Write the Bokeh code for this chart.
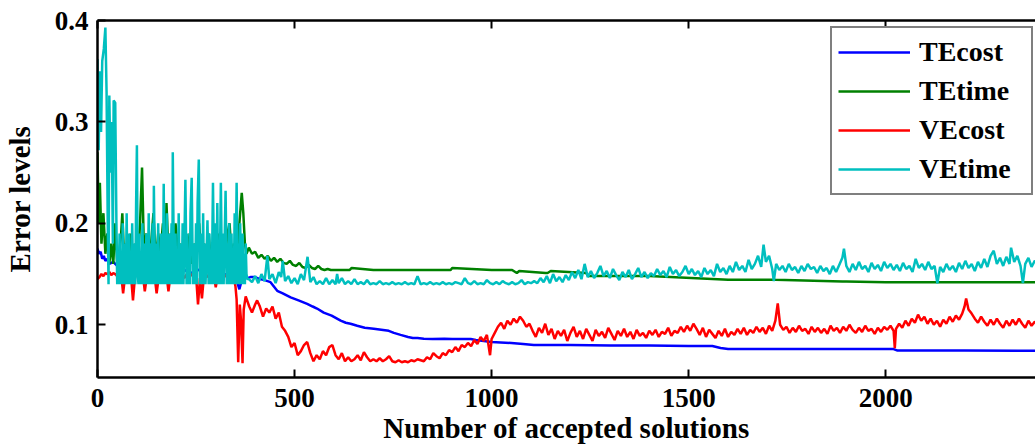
from bokeh.plotting import figure
from bokeh.models import LinearAxis, SingleIntervalTicker, Range1d, Legend, LegendItem
from bokeh.embed import file_html
from bokeh.resources import INLINE

# ---------------- data ----------------
tecost_x = [0, 4, 8, 12, 16, 20, 25, 30, 40, 50, 60, 70, 80, 90, 100, 120, 140, 160, 180, 200,
            220, 240, 262, 280, 300, 320, 340, 350, 356, 360, 364, 370, 380, 388, 400, 412, 424,
            439, 456, 470, 490, 510, 532, 546, 557, 574, 594, 617, 630, 642, 659, 678, 701, 720,
            739, 752, 769, 788, 800, 812, 828, 850, 880, 900, 947, 960, 980, 1000, 1023, 1050,
            1080, 1107, 1200, 1302, 1400, 1500, 1560, 1581, 1600, 1700, 1800, 1900, 2000, 2020,
            2030, 2200, 2386]
tecost_y = [0.175, 0.170, 0.172, 0.165, 0.168, 0.163, 0.165, 0.160, 0.162, 0.158, 0.160, 0.156,
            0.158, 0.155, 0.157, 0.154, 0.156, 0.153, 0.155, 0.152, 0.154, 0.151, 0.155, 0.152,
            0.151, 0.150, 0.149, 0.147, 0.140, 0.135, 0.141, 0.147, 0.146, 0.147, 0.147, 0.145,
            0.144, 0.142, 0.1335, 0.131, 0.127, 0.124, 0.1206, 0.118, 0.116, 0.112, 0.109, 0.104,
            0.102, 0.101, 0.099, 0.097, 0.096, 0.095, 0.094, 0.092, 0.090, 0.088, 0.087, 0.087,
            0.0862, 0.086, 0.0863, 0.086, 0.086, 0.085, 0.084, 0.083, 0.0826, 0.082, 0.081, 0.080,
            0.080, 0.0795, 0.0795, 0.079, 0.079, 0.077, 0.076, 0.076, 0.076, 0.076, 0.076, 0.076,
            0.0745, 0.0745, 0.0744]

tetime_x = [0, 3, 6, 10, 15, 20, 25, 30, 35, 40, 45, 50, 55, 60, 63, 68, 72, 78, 84, 90, 96, 102,
            108, 113, 118, 124, 130, 136, 142, 148, 154, 160, 166, 172, 175, 180, 186, 192, 198,
            204, 210, 216, 222, 228, 234, 240, 246, 252, 258, 264, 270, 276, 282, 288, 294, 300,
            306, 312, 318, 324, 330, 335, 340, 346, 352, 358, 362, 366, 370, 374, 378,
            384, 392, 400, 408, 416, 424, 432, 440, 448, 456, 464, 472, 480, 488, 496, 504, 512,
            520, 528, 536, 544, 552, 560, 568, 576, 584, 592, 600, 620, 640, 645, 700, 760, 800,
            896, 900, 1000, 1048, 1052, 1064, 1070, 1137, 1142, 1150, 1240, 1245, 1400, 1600,
            1716, 1720, 1890, 1894, 1900, 2000, 2386]
tetime_y = [0.27, 0.20, 0.24, 0.18, 0.21, 0.17, 0.19, 0.16, 0.18, 0.16, 0.20, 0.16, 0.17, 0.19,
            0.21, 0.16, 0.18, 0.16, 0.19, 0.16, 0.18, 0.16, 0.20, 0.255, 0.17, 0.19, 0.16, 0.18,
            0.21, 0.16, 0.19, 0.17, 0.20, 0.16, 0.22, 0.17, 0.19, 0.16, 0.20, 0.17, 0.18, 0.16,
            0.20, 0.17, 0.19, 0.16, 0.18, 0.17, 0.20, 0.16, 0.18, 0.17, 0.19, 0.16, 0.18, 0.17,
            0.19, 0.16, 0.18, 0.17, 0.19, 0.20, 0.17, 0.18, 0.16, 0.19, 0.21, 0.23, 0.21, 0.18,
            0.17,
            0.176, 0.170, 0.172, 0.166, 0.169, 0.165, 0.168, 0.163, 0.166, 0.162, 0.165, 0.161,
            0.160, 0.163, 0.159, 0.158, 0.161, 0.157, 0.156, 0.159, 0.156, 0.155, 0.158, 0.155,
            0.154, 0.155, 0.154, 0.154, 0.154, 0.154, 0.156, 0.154, 0.154, 0.154, 0.154, 0.156,
            0.154, 0.154, 0.154, 0.151, 0.153, 0.151, 0.151, 0.153, 0.151, 0.148, 0.148, 0.1445,
            0.1445, 0.1444, 0.1427, 0.1427, 0.1427, 0.1418, 0.1418, 0.1412, 0.1410]

vecost_x = [0, 5, 10, 15, 20, 25, 30, 35, 40, 45, 50, 55, 60, 65, 70, 75, 80, 85, 90, 95, 100,
            105, 110, 115, 120, 125, 130, 135, 140, 145, 150, 155, 160, 165, 170, 175, 180, 185,
            190, 195, 200, 205, 210, 215, 220, 225, 230, 235, 240, 245, 250, 255, 260, 265, 270,
            275, 280, 285, 290, 295, 300, 305, 310, 315, 320, 325, 330, 335, 340, 345, 350, 353,
            357, 361, 364, 368, 371, 376,
            385, 392, 400, 405, 412, 420, 428, 436, 444, 452, 460, 468, 476, 484, 492, 500, 508,
            516, 524, 532, 540, 548, 556, 564, 572, 580, 588, 596, 604, 612, 620, 628, 636, 644,
            652, 660, 668, 676, 684, 692, 700, 708, 716, 724, 732, 740, 748, 756, 764, 772, 780,
            788, 796, 804, 812, 820, 828, 836, 844, 852, 860, 868, 876, 884, 892, 900, 908, 916,
            924, 932, 940, 948, 956, 964, 972, 980, 988, 996, 1000, 1008, 1016, 1024, 1032, 1040,
            1048, 1056, 1064, 1072, 1080, 1088, 1096, 1104, 1112, 1120, 1128, 1136, 1144, 1152,
            1160, 1168, 1176, 1184, 1192, 1200, 1208, 1216, 1224, 1232, 1240, 1248, 1256, 1264,
            1272, 1280, 1288, 1296, 1304, 1312, 1320, 1328, 1336, 1344, 1352, 1360, 1368, 1376,
            1384, 1392, 1400, 1408, 1416, 1424, 1432, 1440, 1448, 1456, 1464, 1472, 1480, 1488,
            1496, 1504, 1512, 1520, 1528, 1536, 1544, 1552, 1560, 1568, 1576, 1584, 1592, 1600,
            1608, 1616, 1624, 1632, 1640, 1648, 1656, 1664, 1672, 1680, 1688, 1696, 1704, 1712,
            1720, 1726, 1732, 1740, 1748, 1756, 1764, 1772, 1780, 1788, 1796, 1804, 1812, 1820,
            1828, 1836, 1844, 1852, 1860, 1868, 1876, 1884, 1892, 1900, 1908, 1916, 1924, 1932,
            1940, 1948, 1956, 1964, 1972, 1980, 1988, 1996, 2004, 2012, 2020, 2023, 2026, 2034,
            2042, 2050, 2058, 2066, 2074, 2082, 2090, 2098, 2106, 2114, 2122, 2130, 2138, 2146,
            2154, 2162, 2170, 2178, 2186, 2194, 2200, 2204, 2210, 2218, 2226, 2234, 2242, 2250,
            2258, 2266, 2274, 2282, 2290, 2298, 2306, 2314, 2322, 2330, 2338, 2346, 2354, 2362,
            2370, 2378, 2386]
vecost_y = [0.145, 0.147, 0.150, 0.148, 0.151, 0.150, 0.152, 0.149, 0.151, 0.150, 0.148, 0.146,
            0.150, 0.131, 0.148, 0.150, 0.146, 0.149, 0.124, 0.147, 0.150, 0.148, 0.146, 0.150,
            0.133, 0.147, 0.149, 0.146, 0.150, 0.148, 0.131, 0.146, 0.150, 0.148, 0.147, 0.150,
            0.133, 0.148, 0.149, 0.146, 0.150, 0.148, 0.147, 0.150, 0.146, 0.149, 0.151, 0.148,
            0.150, 0.147, 0.149, 0.120, 0.146, 0.126, 0.148, 0.150, 0.147, 0.149, 0.146, 0.150,
            0.137, 0.148, 0.150, 0.141, 0.147, 0.149, 0.146, 0.150, 0.144, 0.148, 0.138, 0.125,
            0.063, 0.120, 0.105, 0.062, 0.115, 0.128,
            0.118, 0.112, 0.120, 0.124, 0.118, 0.108, 0.116, 0.112, 0.118, 0.106, 0.112, 0.098,
            0.094, 0.088, 0.078, 0.082, 0.070, 0.074, 0.080, 0.083, 0.072, 0.064, 0.070, 0.066,
            0.074, 0.070, 0.078, 0.080, 0.070, 0.066, 0.072, 0.064, 0.068, 0.064, 0.066, 0.070,
            0.065, 0.073, 0.068, 0.064, 0.066, 0.064, 0.067, 0.064, 0.066, 0.069, 0.064, 0.063,
            0.065, 0.063, 0.064, 0.063, 0.065, 0.064, 0.066, 0.065, 0.064, 0.068, 0.066, 0.072,
            0.069, 0.067, 0.072, 0.070, 0.075, 0.073, 0.078, 0.074, 0.080, 0.078, 0.082, 0.079,
            0.085, 0.081, 0.088, 0.084, 0.090, 0.070, 0.086, 0.092, 0.098, 0.102, 0.096, 0.104,
            0.100, 0.106, 0.102, 0.108, 0.104, 0.098, 0.101, 0.094, 0.088, 0.097, 0.092, 0.101,
            0.090, 0.096, 0.086, 0.094, 0.089, 0.095, 0.084, 0.092, 0.098, 0.088, 0.094, 0.086,
            0.096, 0.090, 0.084, 0.095, 0.089, 0.093, 0.087, 0.097, 0.091, 0.085, 0.094, 0.089,
            0.096, 0.088, 0.093, 0.086, 0.095, 0.089, 0.092, 0.087, 0.094, 0.090, 0.095, 0.088,
            0.093, 0.091, 0.097, 0.089, 0.094, 0.092, 0.098, 0.093, 0.099, 0.094, 0.101, 0.096,
            0.090, 0.097, 0.088, 0.095, 0.091, 0.087, 0.094, 0.089, 0.096, 0.088, 0.093, 0.090,
            0.096, 0.091, 0.097, 0.090, 0.095, 0.092, 0.098, 0.093, 0.097, 0.091, 0.099, 0.094,
            0.104, 0.121, 0.100, 0.095, 0.098, 0.092, 0.097, 0.093, 0.099, 0.094, 0.096, 0.091,
            0.098, 0.093, 0.097, 0.092, 0.096, 0.091, 0.099, 0.094, 0.097, 0.092, 0.098, 0.094,
            0.100, 0.095, 0.092, 0.097, 0.093, 0.099, 0.094, 0.096, 0.091, 0.097, 0.093, 0.098,
            0.095, 0.099, 0.094, 0.077, 0.096, 0.101, 0.097, 0.104, 0.099, 0.106, 0.102, 0.110,
            0.104, 0.108, 0.101, 0.106, 0.100, 0.104, 0.098, 0.105, 0.101, 0.108, 0.103, 0.109,
            0.105, 0.111, 0.118, 0.126, 0.115, 0.111, 0.106, 0.102, 0.108, 0.103, 0.099, 0.105,
            0.100, 0.106, 0.101, 0.097, 0.104, 0.099, 0.105, 0.100, 0.106, 0.101, 0.097, 0.104,
            0.099, 0.103, 0.100]

# VEtime, first part (dense oscillation up to ~380 accepted solutions), as (x, y) pairs
vetime_head = [
    (0, 0.362), (3, 0.272), (6, 0.350), (9, 0.290), (12, 0.360), (16, 0.372), (20, 0.393),
    (23, 0.330), (26, 0.200), (28, 0.140), (30, 0.326), (33, 0.250), (36, 0.300), (39, 0.180),
    (41, 0.321), (45, 0.319), (48, 0.20), (50, 0.14), (52, 0.17), (54, 0.14), (56, 0.19),
    (58, 0.14), (60, 0.16), (62, 0.14), (64, 0.20), (66, 0.15), (68, 0.14), (70, 0.18),
    (72, 0.14), (74, 0.21), (76, 0.14), (78, 0.16), (80, 0.19), (82, 0.14), (84, 0.17),
    (86, 0.14), (88, 0.20), (90, 0.15), (92, 0.14), (94, 0.18), (96, 0.14), (98, 0.22),
    (100, 0.277), (102, 0.15), (104, 0.14), (106, 0.19), (108, 0.14), (110, 0.17), (112, 0.14),
    (114, 0.20), (116, 0.15), (118, 0.14), (120, 0.18), (122, 0.14), (124, 0.19), (126, 0.14),
    (128, 0.16), (130, 0.21), (132, 0.14), (134, 0.18), (136, 0.14), (138, 0.17), (140, 0.20),
    (142, 0.14), (143, 0.237), (146, 0.14), (148, 0.18), (150, 0.15), (152, 0.14), (154, 0.20),
    (156, 0.14), (158, 0.17), (160, 0.14), (162, 0.19), (164, 0.15), (166, 0.14), (168, 0.239),
    (170, 0.14), (172, 0.18), (174, 0.14), (176, 0.21), (178, 0.15), (180, 0.14), (182, 0.19),
    (184, 0.14), (186, 0.17), (188, 0.20), (190, 0.14), (191, 0.270), (194, 0.15), (196, 0.14),
    (198, 0.19), (200, 0.14), (202, 0.17), (204, 0.14), (206, 0.21), (208, 0.14), (210, 0.18),
    (212, 0.15), (214, 0.14), (216, 0.20), (218, 0.14), (220, 0.17), (223, 0.243), (226, 0.14),
    (228, 0.19), (230, 0.14), (232, 0.16), (234, 0.14), (236, 0.21), (239, 0.245), (242, 0.14),
    (244, 0.18), (246, 0.15), (248, 0.14), (250, 0.20), (252, 0.14), (254, 0.22), (257, 0.263),
    (260, 0.14), (262, 0.19), (264, 0.15), (266, 0.14), (268, 0.21), (270, 0.14), (272, 0.18),
    (274, 0.14), (276, 0.16), (279, 0.203), (282, 0.14), (284, 0.19), (286, 0.14), (288, 0.17),
    (290, 0.14), (293, 0.240), (296, 0.14), (298, 0.20), (300, 0.15), (302, 0.14), (304, 0.22),
    (306, 0.14), (308, 0.18), (310, 0.14), (313, 0.240), (316, 0.14), (318, 0.19), (320, 0.14),
    (322, 0.17), (325, 0.232), (328, 0.14), (330, 0.18), (332, 0.14), (334, 0.20), (336, 0.15),
    (338, 0.14), (340, 0.19), (342, 0.14), (344, 0.17), (346, 0.14), (348, 0.21), (350, 0.14),
    (353, 0.240), (356, 0.14), (358, 0.18), (360, 0.14), (362, 0.20), (364, 0.15), (366, 0.14),
    (368, 0.19), (370, 0.14), (372, 0.17), (374, 0.14), (376, 0.18), (378, 0.15), (380, 0.145),
]

vetime_tail_x = [384, 392, 400, 408, 416, 424, 431, 436, 444, 452, 460, 466, 470, 476, 484, 492, 500,
            508, 516, 524, 533, 540, 548, 556, 564, 572, 580, 588, 596, 604, 608, 612, 620, 628,
            636, 644, 652, 660, 668, 676, 684, 692, 700, 708, 716, 724, 732, 740, 748, 756, 764,
            772, 780, 788, 796, 804, 812, 820, 828, 836, 844, 852, 860, 868, 876, 884, 892, 900,
            908, 916, 924, 932, 940, 948, 956, 964, 972, 980, 988, 996, 1004, 1012, 1020, 1028,
            1036, 1044, 1052, 1060, 1068, 1076, 1084, 1092, 1100, 1108, 1116, 1124, 1132, 1140,
            1148, 1156, 1164, 1172, 1180, 1188, 1196, 1204, 1212, 1220, 1228, 1236, 1244, 1252,
            1260, 1268, 1276, 1284, 1292, 1300, 1308, 1316, 1324, 1332, 1340, 1348, 1356, 1364,
            1372, 1380, 1388, 1396, 1404, 1412, 1420, 1428, 1436, 1444, 1452, 1460, 1468, 1476,
            1484, 1492, 1500, 1508, 1516, 1524, 1532, 1540, 1548, 1556, 1564, 1572, 1580, 1588,
            1596, 1604, 1612, 1620, 1628, 1636, 1644, 1652, 1660, 1668, 1676, 1684, 1690, 1696,
            1704, 1712, 1716, 1722, 1730, 1738, 1746, 1754, 1762, 1770, 1778, 1786, 1794, 1802,
            1810, 1818, 1826, 1834, 1842, 1850, 1858, 1866, 1874, 1882, 1890, 1894, 1900, 1908,
            1916, 1924, 1932, 1940, 1948, 1956, 1964, 1972, 1980, 1988, 1996, 2004, 2012, 2020,
            2028, 2036, 2044, 2052, 2060, 2068, 2076, 2084, 2092, 2100, 2108, 2116, 2124, 2131,
            2138, 2146, 2154, 2162, 2170, 2178, 2186, 2194, 2202, 2210, 2218, 2226, 2234, 2242,
            2250, 2258, 2266, 2274, 2282, 2290, 2298, 2306, 2314, 2318, 2326, 2334, 2342, 2348,
            2354, 2362, 2370, 2378, 2386]
vetime_tail_y = [
            0.145, 0.142, 0.148, 0.141, 0.150, 0.143, 0.168, 0.145, 0.150, 0.141, 0.152, 0.147,
            0.163, 0.143, 0.148, 0.141, 0.146, 0.140, 0.150, 0.144, 0.167, 0.142, 0.147, 0.140,
            0.143, 0.140, 0.146, 0.140, 0.144, 0.140, 0.150, 0.141, 0.146, 0.140, 0.143, 0.140,
            0.145, 0.140, 0.142, 0.140, 0.144, 0.140, 0.141, 0.140, 0.143, 0.140, 0.141, 0.140,
            0.142, 0.140, 0.141, 0.140, 0.142, 0.140, 0.141, 0.140, 0.148, 0.140, 0.141, 0.140,
            0.142, 0.140, 0.141, 0.140, 0.142, 0.140, 0.141, 0.140, 0.142, 0.141, 0.140, 0.146,
            0.141, 0.140, 0.143, 0.140, 0.141, 0.140, 0.144, 0.141, 0.140, 0.142, 0.140, 0.143,
            0.141, 0.140, 0.142, 0.140, 0.141, 0.144, 0.140, 0.142, 0.141, 0.143, 0.141, 0.146,
            0.142, 0.148, 0.141, 0.150, 0.143, 0.147, 0.142, 0.149, 0.144, 0.152, 0.146, 0.154,
            0.145, 0.160, 0.147, 0.153, 0.146, 0.151, 0.158, 0.148, 0.153, 0.146, 0.155, 0.149,
            0.144, 0.152, 0.147, 0.154, 0.145, 0.150, 0.156, 0.147, 0.152, 0.146, 0.151, 0.148,
            0.155, 0.149, 0.153, 0.147, 0.157, 0.150, 0.154, 0.148, 0.152, 0.158, 0.150, 0.155,
            0.149, 0.153, 0.147, 0.156, 0.150, 0.154, 0.148, 0.160, 0.152, 0.156, 0.150, 0.158,
            0.152, 0.162, 0.154, 0.158, 0.152, 0.164, 0.155, 0.160, 0.168, 0.157, 0.179, 0.162,
            0.168, 0.155, 0.143, 0.160, 0.154, 0.158, 0.152, 0.160, 0.154, 0.157, 0.151, 0.158,
            0.153, 0.160, 0.155, 0.157, 0.151, 0.158, 0.153, 0.156, 0.150, 0.158, 0.152, 0.159,
            0.166, 0.175, 0.158, 0.152, 0.160, 0.154, 0.162, 0.155, 0.158, 0.152, 0.161, 0.155,
            0.159, 0.153, 0.162, 0.156, 0.160, 0.154, 0.159, 0.153, 0.161, 0.155, 0.158, 0.152,
            0.165, 0.156, 0.160, 0.154, 0.162, 0.155, 0.158, 0.141, 0.157, 0.152, 0.160, 0.154,
            0.158, 0.152, 0.161, 0.155, 0.163, 0.156, 0.160, 0.153, 0.162, 0.156, 0.165, 0.157,
            0.168, 0.173, 0.160, 0.166, 0.158, 0.167, 0.160, 0.176, 0.162, 0.168, 0.158, 0.141,
            0.160, 0.166, 0.157, 0.163, 0.160]

vetime_x = [pt[0] for pt in vetime_head] + vetime_tail_x
vetime_y = [pt[1] for pt in vetime_head] + vetime_tail_y

series_names = ["TEcost", "TEtime", "VEcost", "VEtime"]
series_colors = ["#0000ff", "#008000", "#ff0000", "#00bfbf"]

x_label = "Number of accepted solutions"
y_label = "Error levels"
x_ticks_step = 500
y_ticks_step = 0.1

# ---------------- figure ----------------
FONT = "Liberation Serif"

p = figure(width=1035, height=447, output_backend="svg", toolbar_location=None,
           x_range=Range1d(0, 2380), y_range=Range1d(0.048, 0.4),
           min_border_left=97, min_border_right=0, min_border_top=20, min_border_bottom=70)
p.outline_line_color = None
p.grid.visible = False
p.background_fill_color = "white"

xs = [tecost_x, tetime_x, vecost_x, vetime_x]
ys = [tecost_y, tetime_y, vecost_y, vetime_y]
renderers = []
for x, y, c in zip(xs, ys, series_colors):
    renderers.append(p.line(x, y, line_color=c, line_width=2.5))

# axes
p.xaxis.ticker = SingleIntervalTicker(interval=x_ticks_step)
p.yaxis.ticker = SingleIntervalTicker(interval=y_ticks_step)
for ax in (p.xaxis[0], p.yaxis[0]):
    ax.axis_line_width = 2.5
    ax.axis_line_color = "black"
    ax.major_tick_in = 8
    ax.major_tick_out = 0
    ax.major_tick_line_width = 2
    ax.minor_tick_in = 0
    ax.minor_tick_out = 0
    ax.major_label_text_font = FONT
    ax.major_label_text_font_style = "bold"
    ax.major_label_text_font_size = "27px"
    ax.major_label_text_color = "black"
    ax.axis_label_text_font = FONT
    ax.axis_label_text_font_style = "bold"
    ax.axis_label_text_font_size = "29px"
    ax.axis_label_text_color = "black"

p.xaxis.axis_label = x_label
p.yaxis.axis_label = y_label
p.xaxis.major_label_standoff = 11
p.xaxis.axis_label_standoff = 2
p.yaxis.major_label_standoff = 9
p.yaxis.axis_label_standoff = 16

# top frame edge with inward ticks, no labels
top = LinearAxis(ticker=SingleIntervalTicker(interval=x_ticks_step), axis_line_width=2.5,
                 major_tick_in=8, major_tick_out=0, major_tick_line_width=2,
                 minor_tick_in=0, minor_tick_out=0,
                 major_label_text_font_size="1px", major_label_text_color=None,
                 major_label_standoff=0)
p.add_layout(top, "above")

legend = Legend(items=[LegendItem(label=n, renderers=[r]) for n, r in zip(series_names, renderers)],
                location=(733, 182),
                label_text_font=FONT, label_text_font_style="bold",
                label_text_font_size="28px", label_text_color="black",
                glyph_width=72, glyph_height=36, label_height=36, label_width=106,
                label_standoff=9, spacing=3, padding=6, margin=0,
                border_line_color="black", border_line_width=2,
                background_fill_alpha=1.0)
p.add_layout(legend, "center")

open("out.html", "w").write(file_html(p, INLINE))
